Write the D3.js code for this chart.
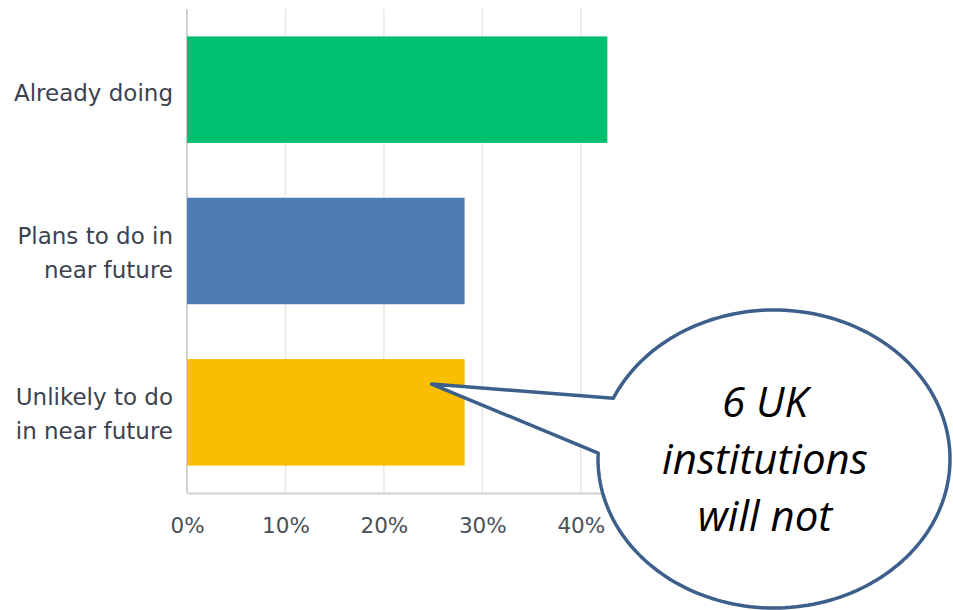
<!DOCTYPE html>
<html>
<head>
<meta charset="utf-8">
<script src="https://cdn.jsdelivr.net/npm/d3@7"></script>
<style>
  body { margin: 0; background: #fff; }
  .cat-label { font-family: "DejaVu Sans", sans-serif; font-size: 23px; fill: #3b4350; }
  .tick text { font-family: "DejaVu Sans", sans-serif; font-size: 21.5px; fill: #4a4f57; }
  .callout-text { font-family: "Open Sans", "Noto Sans", sans-serif; font-style: italic; font-size: 42px; fill: #000; }
</style>
</head>
<body>
<div id="wrapper"></div>
<script>
const categories = ["Already doing", "Plans to do in\nnear future", "Unlikely to do\nin near future"];
const values = [42.7, 28.2, 28.2];
const colors = ["#00bf6f", "#507cb6", "#f9be00"];
const tickValues = [0, 10, 20, 30, 40];
const calloutLines = ["6 UK", "institutions", "will not"];

function drawChart() {
  let dimensions = {
    width: 953,
    height: 610,
    margin: { top: 9, bottom: 117, left: 187, right: 323 },
  };
  dimensions.boundedWidth = dimensions.width - dimensions.margin.left - dimensions.margin.right;
  dimensions.boundedHeight = dimensions.height - dimensions.margin.top - dimensions.margin.bottom;

  const wrapper = d3.select("#wrapper")
    .append("svg")
    .attr("width", dimensions.width)
    .attr("height", dimensions.height);

  const bounds = wrapper.append("g")
    .attr("transform", `translate(${dimensions.margin.left},${dimensions.margin.top})`);

  // scales
  const xScale = d3.scaleLinear()
    .domain([0, 45])
    .range([0, dimensions.boundedWidth]);

  const yScale = d3.scaleBand()
    .domain(categories)
    .range([0, dimensions.boundedHeight])
    .paddingInner(0.34)
    .paddingOuter(0.17);

  // gridlines
  bounds.append("g")
    .selectAll("line")
    .data(tickValues.slice(1))
    .join("line")
    .attr("x1", (d) => xScale(d))
    .attr("x2", (d) => xScale(d))
    .attr("y1", 0)
    .attr("y2", dimensions.boundedHeight)
    .attr("stroke", "#e8e8e8")
    .attr("stroke-width", 1.5);

  // left axis line
  bounds.append("line")
    .attr("x1", 0).attr("x2", 0)
    .attr("y1", 0).attr("y2", dimensions.boundedHeight)
    .attr("stroke", "#d0d0d0")
    .attr("stroke-width", 2);

  // bars
  bounds.append("g")
    .selectAll("rect")
    .data(categories)
    .join("rect")
    .attr("x", 0)
    .attr("y", (d) => yScale(d))
    .attr("width", (d, i) => xScale(values[i]))
    .attr("height", yScale.bandwidth())
    .attr("fill", (d, i) => colors[i]);

  // x axis
  const xAxis = bounds.append("g")
    .attr("transform", `translate(0,${dimensions.boundedHeight})`)
    .call(d3.axisBottom(xScale).tickValues(tickValues).tickFormat((d) => d + "%").tickSize(0).tickPadding(25));
  xAxis.select(".domain").attr("stroke", "#d0d0d0").attr("stroke-width", 2);

  // category labels
  bounds.append("g")
    .selectAll("text")
    .data(categories)
    .join("text")
    .attr("class", "cat-label")
    .attr("text-anchor", "end")
    .attr("y", (d) => yScale(d) + yScale.bandwidth() / 2)
    .each(function (d) {
      const lines = d.split("\n");
      const el = d3.select(this);
      lines.forEach((line, i) => {
        el.append("tspan")
          .attr("x", -14)
          .attr("dy", i == 0 ? (lines.length > 1 ? -7 : 11) : 34)
          .text(line);
      });
    });

  // callout bubble pointing at the last bar
  const px = dimensions.margin.left + xScale(values[2]) - 33;
  const py = dimensions.margin.top + yScale(categories[2]) + 25;
  const cx = 774, cy = 459, rx = 176, ry = 149;
  const a1 = Math.PI + 0.42, a2 = Math.PI + 0.04;
  const span = 2 * Math.PI - (a1 - a2);
  const steps = 180;
  const bubble = d3.path();
  bubble.moveTo(px, py);
  for (let i = 0; i <= steps; i++) {
    const a = a1 + (span * i) / steps;
    bubble.lineTo(cx + rx * Math.cos(a), cy + ry * Math.sin(a));
  }
  bubble.closePath();

  wrapper.append("path")
    .attr("d", bubble.toString())
    .attr("fill", "#fff")
    .attr("stroke", "#3c5f8c")
    .attr("stroke-width", 3.5)
    .attr("stroke-linejoin", "round");

  wrapper.append("g")
    .selectAll("text")
    .data(calloutLines)
    .join("text")
    .attr("class", "callout-text")
    .attr("text-anchor", "middle")
    .attr("x", 765)
    .attr("y", (d, i) => 417 + i * 57)
    .text((d) => d);
}

drawChart();
</script>
</body>
</html>
